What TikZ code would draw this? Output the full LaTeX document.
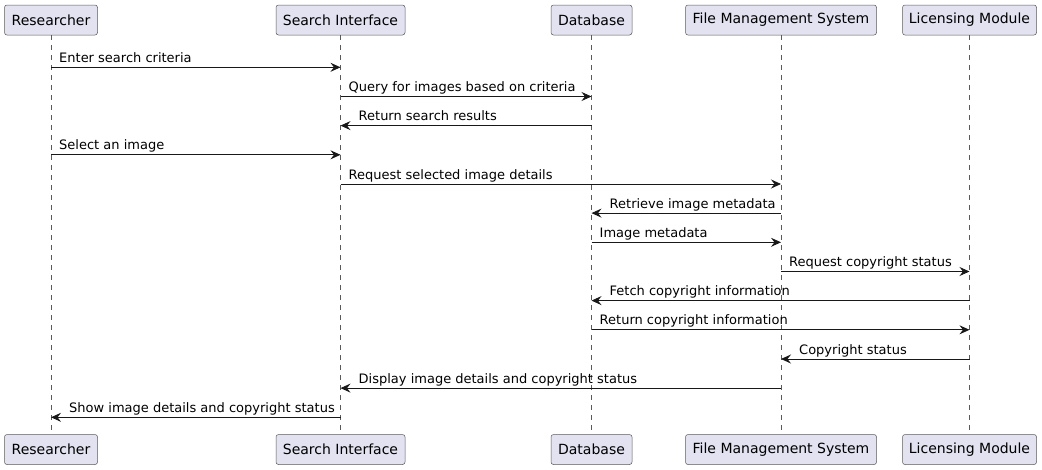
\documentclass[tikz,border=0pt]{standalone}
\usepackage{fontspec}
\setmainfont{DejaVu Sans}
\usetikzlibrary{arrows.meta}
\definecolor{pbox}{HTML}{E2E2F0}
\definecolor{pline}{HTML}{181818}
\definecolor{pedge}{HTML}{5A5A5A}
\tikzset{
  part/.style={draw=pedge, fill=pbox, rounded corners=2.5pt, line width=0.5pt,
    minimum height=30pt, inner sep=0pt, font=\fontsize{14pt}{16pt}\selectfont, text=black},
  life/.style={draw=pedge, dash pattern=on 5pt off 5pt, line width=0.5pt},
  msg/.style={draw=pline, line width=0.9pt, -{Stealth[length=10pt,width=9pt,inset=3.5pt]}},
  lbl/.style={anchor=base west, inner sep=0pt, font=\fontsize{13pt}{15pt}\selectfont, text=black}
}
\begin{document}
\begin{tikzpicture}[x=1pt,y=-1pt]
\useasboundingbox (0,0) rectangle (1042,469);
% participants top
\node[part, minimum width=93pt]  (rT) at (51,20) {Researcher};
\node[part, minimum width=129pt] (sT) at (340.5,20) {Search Interface};
\node[part, minimum width=81pt]  (dT) at (591.5,20) {Database};
\node[part, minimum width=191pt] (fT) at (781,20) {File Management System};
\node[part, minimum width=134pt] (lT) at (969.5,20) {Licensing Module};
% participants bottom
\node[part, minimum width=93pt]  (rB) at (51,449.5) {Researcher};
\node[part, minimum width=129pt] (sB) at (340.5,449.5) {Search Interface};
\node[part, minimum width=81pt]  (dB) at (591.5,449.5) {Database};
\node[part, minimum width=191pt] (fB) at (781,449.5) {File Management System};
\node[part, minimum width=134pt] (lB) at (969.5,449.5) {Licensing Module};
% lifelines
\foreach \p in {r,s,d,f,l} {\draw[life] (\p T.south) -- (\p B.north);}
% messages
\newcommand{\msgR}[4]{% from, to, y, label (rightward)
  \draw[msg] (#1T.south |- 0,#3) coordinate (a) -- (#2T.south |- 0,#3);
  \node[lbl] at ([xshift=8pt,yshift=5pt]a) {#4};}
\newcommand{\msgL}[4]{% from, to, y, label (leftward)
  \draw[msg] (#1T.south |- 0,#3) -- (#2T.south |- 0,#3) coordinate (b);
  \node[lbl] at ([xshift=18pt,yshift=5pt]b) {#4};}
\msgR{r}{s}{67.3}{Enter search criteria}
\msgR{s}{d}{96.5}{Query for images based on criteria}
\msgL{d}{s}{125.6}{Return search results}
\msgR{r}{s}{154.8}{Select an image}
\msgR{s}{f}{184.0}{Request selected image details}
\msgL{f}{d}{213.1}{Retrieve image metadata}
\msgR{d}{f}{242.3}{Image metadata}
\msgR{f}{l}{271.5}{Request copyright status}
\msgL{l}{d}{300.6}{Fetch copyright information}
\msgR{d}{l}{329.8}{Return copyright information}
\msgL{l}{f}{359.0}{Copyright status}
\msgL{f}{s}{388.1}{Display image details and copyright status}
\msgL{s}{r}{417.3}{Show image details and copyright status}
\end{tikzpicture}
\end{document}
